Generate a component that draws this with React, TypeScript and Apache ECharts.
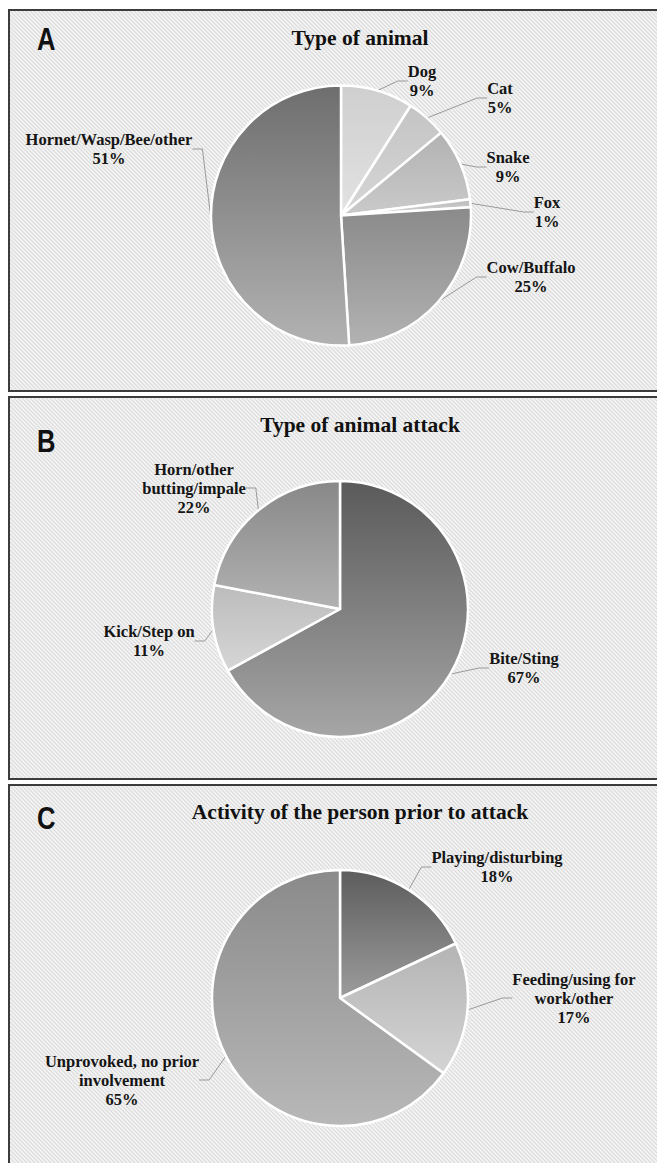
import React, { useEffect, useRef } from "react";
import * as echarts from "echarts";

const panelLetters = ["A", "B", "C"];
const panelTitles = [
  "Type of animal",
  "Type of animal attack",
  "Activity of the person prior to attack",
];

const animalCategories = ["Dog", "Cat", "Snake", "Fox", "Cow/Buffalo", "Hornet/Wasp/Bee/other"];
const animalValues = [9, 5, 9, 1, 25, 51];

const attackCategories = ["Bite/Sting", "Kick/Step on", "Horn/other\nbutting/impale"];
const attackValues = [67, 11, 22];

const activityCategories = ["Playing/disturbing", "Feeding/using for\nwork/other", "Unprovoked, no prior\ninvolvement"];
const activityValues = [18, 17, 65];

// styling (gradient top -> bottom per slice)
const animalColors = [
  ["#cfcfcf", "#e2e2e2"],
  ["#c4c4c4", "#d6d6d6"],
  ["#b2b2b2", "#cacaca"],
  ["#bdbdbd", "#d0d0d0"],
  ["#8a8a8a", "#b2b2b2"],
  ["#6e6e6e", "#b2b2b2"],
];
const attackColors = [
  ["#5a5a5a", "#a6a6a6"],
  ["#bcbcbc", "#d6d6d6"],
  ["#888888", "#b2b2b2"],
];
const activityColors = [
  ["#5c5c5c", "#9c9c9c"],
  ["#b4b4b4", "#d4d4d4"],
  ["#8a8a8a", "#b8b8b8"],
];

// layout (container coordinates)
const animalLabelPos = [[414, 73], [492, 90], [500, 159], [539, 204], [523, 269], [101, 141]];
const attackLabelPos = [[516, 660], [141, 633], [186, 480]];
const activityLabelPos = [[489, 859], [566, 990], [114, 1072]];

const panelTops = [1, 388, 776];
const panelHeights = [383, 384, 420];
const pieCenters = [[333, 207.5], [332, 601], [332, 990]];
const pieRadii = [130, 128, 128];
const titleY = [14, 401, 788];
const letterY = [15, 417, 794];

const W = 657;
const H = 1155;

function makeSeries(
  cats: string[],
  vals: number[],
  colors: string[][],
  labelPos: number[][],
  center: number[],
  radius: number
) {
  return {
    type: "pie",
    center: center,
    radius: radius,
    startAngle: 90,
    clockwise: true,
    avoidLabelOverlap: false,
    data: cats.map((c, i) => ({
      name: c,
      value: vals[i],
      itemStyle: {
        color: new echarts.graphic.LinearGradient(0, 0, 0, 1, [
          { offset: 0, color: colors[i][0] },
          { offset: 1, color: colors[i][1] },
        ]),
      },
    })),
    itemStyle: { borderColor: "#ffffff", borderWidth: 2.5 },
    label: {
      show: true,
      position: "outside",
      formatter: (p: any) => `${p.name}\n${p.value}%`,
      fontFamily: "Liberation Serif, Times New Roman, serif",
      fontWeight: "bold",
      fontSize: 16.5,
      lineHeight: 19,
      color: "#151515",
      align: "center",
    },
    labelLine: {
      show: true,
      length: 10,
      length2: 10,
      lineStyle: { color: "#9a9a9a", width: 1 },
    },
    labelLayout: (params: any) => {
      const p = labelPos[params.dataIndex];
      return { x: p[0], y: p[1], align: "center", verticalAlign: "middle" };
    },
    emphasis: { disabled: true },
  };
}

const hatchSvg =
  "<svg xmlns='http://www.w3.org/2000/svg' width='4' height='4'>" +
  "<rect width='4' height='4' fill='#f4f4f4'/>" +
  "<path d='M0 0L4 4M3 -1L5 1M-1 3L1 5' stroke='#dadada' stroke-width='1.1'/></svg>";
const hatch = `url("data:image/svg+xml;utf8,${encodeURIComponent(hatchSvg)}")`;

export default function App() {
  const ref = useRef<HTMLDivElement>(null);
  useEffect(() => {
    document.documentElement.style.overflow = "hidden";
    if (!ref.current) return;
    const chart = echarts.init(ref.current, undefined, { renderer: "svg" });
    const graphics: any[] = [];
    for (let i = 0; i < 3; i++) {
      graphics.push({
        type: "text",
        x: 29,
        y: letterY[i],
        scaleX: 0.8,
        style: {
          text: panelLetters[i],
          fontFamily: "Liberation Sans, Arial, sans-serif",
          fontWeight: "bold",
          fontSize: 32,
          fill: "#111",
          textAlign: "left",
          textVerticalAlign: "top",
        },
      });
    }
    chart.setOption({
      animation: false,
      backgroundColor: "transparent",
      title: panelTitles.map((t, i) => ({
        text: t,
        left: 347,
        top: titleY[i],
        textAlign: "center",
        textStyle: {
          fontFamily: "Liberation Serif, Times New Roman, serif",
          fontWeight: "bold",
          fontSize: 21.5,
          color: "#111",
        },
      })),
      series: [
        makeSeries(animalCategories, animalValues, animalColors, animalLabelPos, pieCenters[0], pieRadii[0]),
        makeSeries(attackCategories, attackValues, attackColors, attackLabelPos, pieCenters[1], pieRadii[1]),
        makeSeries(activityCategories, activityValues, activityColors, activityLabelPos, pieCenters[2], pieRadii[2]),
      ],
      graphic: graphics,
    });
    return () => chart.dispose();
  }, []);

  return (
    <div style={{ position: "relative", width: W, height: H, overflow: "hidden" }}>
      {panelTops.map((t, i) => (
        <div
          key={i}
          style={{
            position: "absolute",
            left: 0,
            top: t,
            width: W + 40,
            height: panelHeights[i],
            boxSizing: "border-box",
            border: "2px solid #3c3c3c",
            backgroundColor: "#ececec",
            backgroundImage: hatch,
            backgroundRepeat: "repeat",
          }}
        />
      ))}
      <div ref={ref} style={{ position: "absolute", left: 0, top: 0, width: W, height: H }} />
    </div>
  );
}
